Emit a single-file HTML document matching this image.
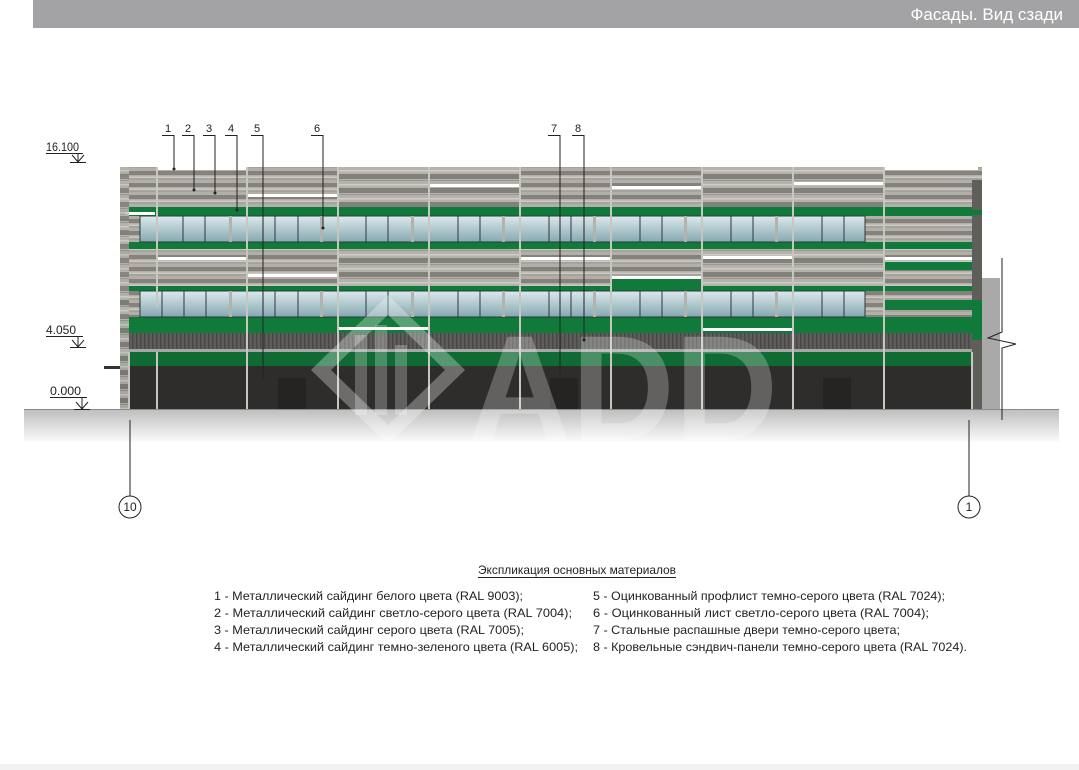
<!DOCTYPE html>
<html><head><meta charset="utf-8"><style>
html,body{margin:0;padding:0;background:#fff;}
svg{display:block;font-family:"Liberation Sans",sans-serif;}
</style></head><body>
<svg width="1079" height="770" viewBox="0 0 1079 770" xmlns="http://www.w3.org/2000/svg">
<defs>
<pattern id="st" width="10" height="12" patternUnits="userSpaceOnUse">
<rect width="10" height="12" fill="#b2aea8"/><rect y="3" width="10" height="4" fill="#85827d"/><rect y="8.5" width="10" height="1.5" fill="#cdcac5"/><rect y="10.5" width="10" height="1" fill="#9a9792"/>
</pattern>
<pattern id="st2" width="10" height="14" patternUnits="userSpaceOnUse">
<rect width="10" height="14" fill="#b5b1ab"/><rect y="6" width="10" height="5" fill="#82807b"/><rect y="2" width="10" height="1.5" fill="#d0cdc8"/><rect y="12" width="10" height="1" fill="#9a9792"/>
</pattern>
<pattern id="prof" width="4" height="10" patternUnits="userSpaceOnUse">
<rect width="4" height="10" fill="#5e5d5b"/><rect width="1.5" height="10" fill="#4a4947"/>
</pattern>
<linearGradient id="gl" x1="0" y1="0" x2="0" y2="1"><stop offset="0" stop-color="#dce9ec"/><stop offset="1" stop-color="#86a8b1"/></linearGradient>
<linearGradient id="gr" x1="0" y1="0" x2="0" y2="1"><stop offset="0" stop-color="#bdbdbd"/><stop offset="1" stop-color="#fbfbfb"/></linearGradient>
</defs>
<rect x="33" y="0" width="1046" height="28" fill="#a3a3a5"/>
<text x="1063" y="20" font-size="17" fill="#fff" text-anchor="end">Фасады. Вид сзади</text>
<rect x="0" y="764" width="1079" height="6" fill="#f2f2f2"/>

<rect x="24" y="409" width="1035" height="33" fill="url(#gr)"/>
<line x1="24" y1="409.5" x2="1059" y2="409.5" stroke="#8a8a8a"/>

<rect x="982" y="278" width="18" height="131" fill="#a9a9a9"/>

<rect x="120" y="167" width="862" height="242" fill="url(#st)"/>
<rect x="338" y="167" width="182" height="120" fill="url(#st2)"/>
<rect x="702" y="167" width="182" height="120" fill="url(#st2)"/>
<g fill="#107a3b">
<rect x="129" y="207" width="849" height="9"/>
<rect x="129" y="242" width="849" height="7"/>
<rect x="129" y="286" width="849" height="5"/>
<rect x="129" y="317" width="849" height="16"/>
<rect x="884" y="207" width="94" height="9"/>
<rect x="884" y="262" width="94" height="8"/>
<rect x="884" y="300" width="94" height="10"/>
<rect x="611" y="278" width="91" height="13"/>
<rect x="611" y="291" width="91" height="26" />
<rect x="120" y="210" width="9" height="5"/><rect x="120" y="250" width="9" height="5"/><rect x="120" y="300" width="9" height="6"/><rect x="120" y="320" width="9" height="30"/>
</g>
<rect x="865" y="216" width="19" height="26" fill="url(#st)"/>
<rect x="865" y="291" width="19" height="26" fill="url(#st)"/>
<g fill="#ffffff">
<rect x="157" y="167" width="90" height="3"/>
<rect x="247" y="194" width="91" height="3"/>
<rect x="429" y="184" width="91" height="3"/>
<rect x="611" y="186" width="91" height="3"/>
<rect x="793" y="182" width="91" height="3"/>
<rect x="884" y="167" width="94" height="3"/>
<rect x="125" y="212" width="30" height="3"/>
<rect x="157" y="257" width="90" height="3"/>
<rect x="247" y="274" width="91" height="3"/>
<rect x="520" y="257" width="91" height="3"/>
<rect x="611" y="276" width="91" height="3"/>
<rect x="702" y="256" width="91" height="3"/>
<rect x="884" y="257" width="94" height="3"/>
<rect x="338" y="327" width="91" height="3"/>
<rect x="702" y="328" width="91" height="3"/>
</g>
<rect x="140" y="216" width="725" height="26" fill="url(#gl)" stroke="#2c3a3c" stroke-width="1"/>
<rect x="140" y="291" width="725" height="26" fill="url(#gl)" stroke="#2c3a3c" stroke-width="1"/>
<g stroke="#2c3a3c" stroke-width="1">
<path d="M183 216v26M205 216v26M275 216v26M298 216v26M366 216v26M388 216v26M458 216v26M480 216v26M549 216v26M571 216v26M640 216v26M662 216v26M731 216v26M753 216v26M822 216v26M844 216v26"/>
<path d="M162 291v26M184 291v26M206 291v26M275 291v26M298 291v26M366 291v26M388 291v26M458 291v26M480 291v26M549 291v26M571 291v26M640 291v26M662 291v26M731 291v26M753 291v26M822 291v26M844 291v26"/>
</g>
<g fill="#b3b3ad">
<rect x="229" y="216" width="3" height="26"/><rect x="320" y="216" width="3" height="26"/><rect x="411" y="216" width="3" height="26"/><rect x="502" y="216" width="3" height="26"/><rect x="593" y="216" width="3" height="26"/><rect x="684" y="216" width="3" height="26"/><rect x="775" y="216" width="3" height="26"/>
<rect x="229" y="291" width="3" height="26"/><rect x="320" y="291" width="3" height="26"/><rect x="411" y="291" width="3" height="26"/><rect x="502" y="291" width="3" height="26"/><rect x="593" y="291" width="3" height="26"/><rect x="684" y="291" width="3" height="26"/><rect x="775" y="291" width="3" height="26"/>
</g>
<rect x="120" y="333" width="852" height="16" fill="url(#prof)"/>
<rect x="120" y="349" width="852" height="3" fill="#a7a7a2"/>
<rect x="120" y="352" width="852" height="14" fill="#0f6a34"/>
<rect x="120" y="366" width="852" height="43" fill="#2f2d2b"/>
<rect x="972" y="180" width="10" height="229" fill="#5f5e5a"/>
<rect x="972" y="210" width="10" height="5" fill="#107a3b"/><rect x="972" y="300" width="10" height="40" fill="#107a3b"/>
<rect x="120" y="167" width="9" height="242" fill="url(#st2)" opacity="0.9"/>
<rect x="278" y="378" width="28" height="31" fill="#262422"/>
<rect x="550" y="378" width="28" height="31" fill="#262422"/>
<rect x="823" y="378" width="28" height="31" fill="#262422"/>
<g stroke="#c6c8bf" stroke-width="2">
<path d="M157 167v140M247 167v242M338 167v242M429 167v242M520 167v242M611 167v242M702 167v242M793 167v242M884 167v242M157 352v57M129 352v57M972 352v57"/>
</g>
<rect x="104" y="366" width="16" height="3" fill="#333"/>
<g fill="none" stroke="#ffffff" stroke-opacity="0.3" stroke-width="14">
<path d="M388 305 L455 370 L388 435 L321 370 Z"/>
</g>
<g fill="#ffffff" fill-opacity="0.25"><rect x="355" y="335" width="12" height="80"/><rect x="375" y="325" width="12" height="90"/><rect x="395" y="345" width="12" height="70"/></g>
<text x="468" y="440" font-size="150" font-weight="bold" fill="#ffffff" fill-opacity="0.25" textLength="310" lengthAdjust="spacingAndGlyphs">ADD</text>

<path d="M1002 258 V332 L988 338 L1016 344 L1002 348 V420" fill="none" stroke="#222" stroke-width="1"/>

<g stroke="#222" stroke-width="1" fill="none">
<path d="M162 135.5h12v33M182 135.5h12v55M203 135.5h12v58M225 135.5h12v74M251 135.5h12v245M311 135.5h12v93M548 135.5h12v250M572 135.5h12v205"/>
</g>
<g fill="#222"><circle cx="174" cy="169" r="1.5"/><circle cx="194" cy="190" r="1.5"/><circle cx="215" cy="193" r="1.5"/><circle cx="237" cy="210" r="1.5"/><circle cx="323" cy="228" r="1.5"/><circle cx="584" cy="340" r="1.5"/></g>
<g font-size="11" fill="#222" text-anchor="middle">
<text x="168" y="132">1</text><text x="188" y="132">2</text><text x="209" y="132">3</text><text x="231" y="132">4</text><text x="257" y="132">5</text><text x="317" y="132">6</text><text x="554" y="132">7</text><text x="578" y="132">8</text>
</g>
<g stroke="#222" stroke-width="1" fill="none">
<path d="M46 153.5h37M70 162.5h16M72 155l6 7 6-7M78 153v9"/>
<path d="M46 336.5h37M70 347.5h16M72 340l6 7 6-7M78 336v11"/>
<path d="M50 397.5h37M74 409.5h16M76 402l6 7 6-7M82 397v12"/>
</g>
<g font-size="12" fill="#222"><text x="46" y="151" textLength="33" lengthAdjust="spacingAndGlyphs">16.100</text><text x="46" y="334" textLength="30" lengthAdjust="spacingAndGlyphs">4.050</text><text x="50" y="395" textLength="31" lengthAdjust="spacingAndGlyphs">0.000</text></g>
<g stroke="#222" stroke-width="1" fill="none">
<path d="M130 420v76M969 420v76"/><circle cx="130" cy="507" r="11"/><circle cx="969" cy="507" r="11"/>
</g>
<g font-size="12" fill="#222" text-anchor="middle"><text x="130" y="511">10</text><text x="969" y="511">1</text></g>
<g font-size="12" fill="#222">
<text x="478" y="574" textLength="198" lengthAdjust="spacingAndGlyphs">Экспликация основных материалов</text>
<line x1="478" y1="577.5" x2="676" y2="577.5" stroke="#222"/>
<text x="214" y="600" textLength="309" lengthAdjust="spacingAndGlyphs">1 - Металлический сайдинг белого цвета (RAL 9003);</text>
<text x="214" y="617" textLength="358" lengthAdjust="spacingAndGlyphs">2 - Металлический сайдинг светло-серого цвета (RAL 7004);</text>
<text x="214" y="634" textLength="310" lengthAdjust="spacingAndGlyphs">3 - Металлический сайдинг серого цвета (RAL 7005);</text>
<text x="214" y="651" textLength="364" lengthAdjust="spacingAndGlyphs">4 - Металлический сайдинг темно-зеленого цвета (RAL 6005);</text>
<text x="593" y="600" textLength="352" lengthAdjust="spacingAndGlyphs">5 - Оцинкованный профлист темно-серого цвета (RAL 7024);</text>
<text x="593" y="617" textLength="336" lengthAdjust="spacingAndGlyphs">6 - Оцинкованный лист светло-серого цвета  (RAL 7004);</text>
<text x="593" y="634" textLength="307" lengthAdjust="spacingAndGlyphs">7 - Стальные распашные двери темно-серого цвета;</text>
<text x="593" y="651" textLength="374" lengthAdjust="spacingAndGlyphs">8 - Кровельные сэндвич-панели темно-серого цвета (RAL 7024).</text>
</g>
</svg>
</body></html>
